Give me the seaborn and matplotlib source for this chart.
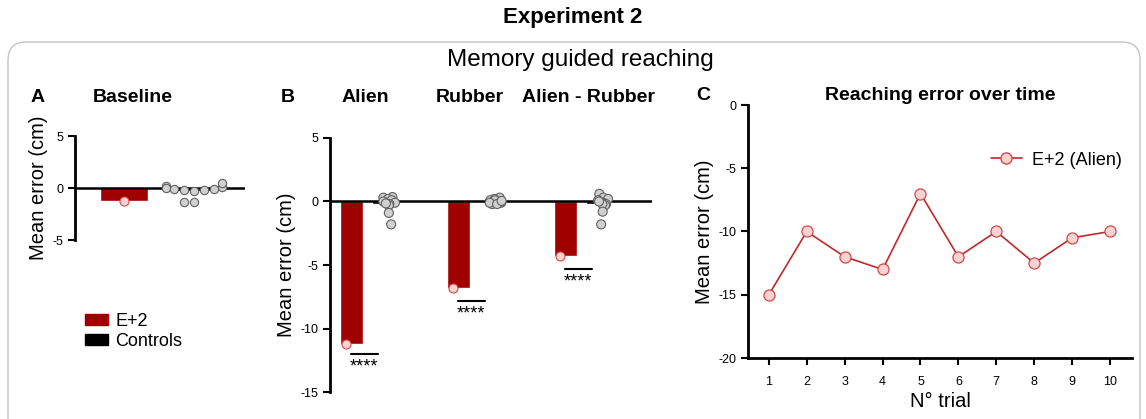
import numpy as np
import pandas as pd
import matplotlib
matplotlib.use("Agg")
import matplotlib.pyplot as plt
from matplotlib.patches import FancyBboxPatch, Patch
from matplotlib.lines import Line2D
from matplotlib.transforms import IdentityTransform
import seaborn as sns

# ---------------- data ----------------
groups = ["E+2", "Controls"]
conditions = ["Alien", "Rubber", "Alien - Rubber"]

baseline_patient = [-1.25]
baseline_controls = [0.2, 0.0, -0.1, -0.2, 0.05, -0.2, -0.1, -0.3, 0.5, -1.35, -1.35]

patient_b = [-11.2, -6.8, -4.3]
controls_alien = [0.3, 0.35, 0.2, 0.1, -0.1, -0.2, -0.3, 0.0, -0.15, -0.9, -1.8]
controls_rubber = [0.3, 0.2, 0.1, 0.0, -0.1, -0.2, 0.1, 0.0, -0.1, -0.2, 0.05]
controls_ar = [0.6, 0.3, 0.2, 0.1, -0.1, -0.2, -0.3, -0.2, 0.0, -0.8, -1.8]
sig_labels = ["****", "****", "****"]
sig_y = [-12.0, -7.8, -5.3]

trials = [1, 2, 3, 4, 5, 6, 7, 8, 9, 10]
trial_error = [-15, -10, -12, -13, -7, -12, -10, -12.5, -10.5, -10]

# ---------------- style ----------------
sns.set_theme(style="ticks")
plt.rcParams["font.family"] = ["Liberation Sans", "DejaVu Sans"]
plt.rcParams["text.color"] = "black"
plt.rcParams["axes.labelcolor"] = "black"
plt.rcParams["xtick.color"] = "black"
plt.rcParams["ytick.color"] = "black"
RED = "#A00000"
PINK = "#F9D2D2"
PINK_EDGE = "#D24A4A"
GRAY = "#D0D0D0"
GRAY_EDGE = "#606060"
np.random.seed(7)  # deterministic horizontal jitter only

fig = plt.figure(figsize=(11.46, 4.19), dpi=100)
H = 419.0
W = 1146.0

def fx(px):
    return px / W

def fy(py):
    return 1 - py / H

# rounded panel box (pixel coordinates)
box = FancyBboxPatch((8, -25), 1132, 419 - 42 + 25,
                     boxstyle="round,pad=0,rounding_size=18",
                     transform=IdentityTransform(), fill=False,
                     edgecolor="#C4C4C4", linewidth=1.0, zorder=0)
fig.patches.append(box)

fig.text(fx(573), fy(18), "Experiment 2", ha="center", va="center",
         fontsize=16, fontweight="bold")
fig.text(fx(580), fy(60), "Memory guided reaching", ha="center", va="center",
         fontsize=17.5)

def style_axis(ax):
    for s in ["top", "right"]:
        ax.spines[s].set_visible(False)
    ax.spines["left"].set_linewidth(2)
    ax.spines["bottom"].set_linewidth(2)
    ax.spines["left"].set_color("black")
    ax.spines["bottom"].set_color("black")
    ax.tick_params(axis="both", width=1.5, length=5, labelsize=9,
                   colors="black", direction="out")
    ax.tick_params(axis="x", pad=8)
    ax.set_facecolor("none")

# ---------------- Panel A ----------------
axA = fig.add_axes([fx(75), fy(240), fx(245) - fx(75), fy(136) - fy(240)])
dfA_bar = pd.DataFrame({"group": groups,
                        "value": [np.mean(baseline_patient), np.mean(baseline_controls)]})
sns.barplot(data=dfA_bar, x="group", y="value", hue="group", order=groups,
            hue_order=groups, palette=[RED, "black"], width=0.69, saturation=1,
            errorbar=None, legend=False, ax=axA, zorder=1)
dfA_pat = pd.DataFrame({"group": ["E+2"] * len(baseline_patient), "value": baseline_patient})
dfA_ctl = pd.DataFrame({"group": ["Controls"] * len(baseline_controls), "value": baseline_controls})
sns.swarmplot(data=dfA_pat, x="group", y="value", order=groups, color=PINK,
              edgecolor=PINK_EDGE, linewidth=0.8, size=6.5, ax=axA, zorder=3)
sns.swarmplot(data=dfA_ctl, x="group", y="value", order=groups, color=GRAY,
              edgecolor=GRAY_EDGE, linewidth=0.8, size=6.0, ax=axA, zorder=3)
axA.axhline(0, color="black", lw=1.8, zorder=2)
axA.set_ylim(-5, 5)
axA.set_xlim(-0.7, 1.73)
axA.set_yticks([5, 0, -5])
axA.set_yticklabels(["5", "0", "-5"])
style_axis(axA)
axA.spines["bottom"].set_visible(False)
axA.set_xticks([])
axA.set_xlabel("")
axA.set_ylabel("Mean error (cm)", fontsize=14.5, labelpad=3)

fig.text(fx(38), fy(97), "A", ha="center", va="center", fontsize=14, fontweight="bold")
fig.text(fx(133), fy(97), "Baseline", ha="center", va="center", fontsize=14, fontweight="bold")

fig.legend(handles=[Patch(facecolor=RED, edgecolor=RED, label="E+2"),
                    Patch(facecolor="black", edgecolor="black", label="Controls")],
           loc="upper left", bbox_to_anchor=(fx(72), fy(300)), frameon=False,
           fontsize=13, handlelength=1.3, handleheight=0.55, handletextpad=0.4,
           labelspacing=0.2, borderpad=0.2)

# ---------------- Panel B ----------------
axB = fig.add_axes([fx(330), fy(392), fx(652) - fx(330), fy(138) - fy(392)])
ctl_lists = [controls_alien, controls_rubber, controls_ar]
dfB_bar = pd.DataFrame({
    "cond": conditions * 2,
    "group": ["E+2"] * 3 + ["Controls"] * 3,
    "value": patient_b + [np.mean(c) for c in ctl_lists],
})
sns.barplot(data=dfB_bar, x="cond", y="value", hue="group", order=conditions,
            hue_order=groups, palette=[RED, "black"], width=0.6, gap=0.3, saturation=1,
            errorbar=None, legend=False, ax=axB, zorder=1)
dfB_pat = pd.DataFrame({"cond": conditions, "group": ["E+2"] * 3, "value": patient_b})
rows = []
for c, vals in zip(conditions, ctl_lists):
    for v in vals:
        rows.append({"cond": c, "group": "Controls", "value": v})
dfB_ctl = pd.DataFrame(rows)
sns.stripplot(data=dfB_pat, x="cond", y="value", hue="group", order=conditions,
              hue_order=groups, dodge=True, jitter=False, palette=[PINK, PINK],
              edgecolor=PINK_EDGE, linewidth=0.8, size=6.5, legend=False, ax=axB, zorder=3)
sns.stripplot(data=dfB_ctl, x="cond", y="value", hue="group", order=conditions,
              hue_order=groups, dodge=True, jitter=0.12, palette=[GRAY, GRAY],
              edgecolor=GRAY_EDGE, linewidth=0.8, size=6.5, legend=False, ax=axB, zorder=3)
axB.axhline(0, color="black", lw=1.8, zorder=2)
for i, (lab, yv) in enumerate(zip(sig_labels, sig_y)):
    axB.plot([i - 0.15, i + 0.1], [yv, yv], color="black", lw=1.5)
    axB.text(i - 0.03, yv - 0.4, lab, ha="center", va="top", fontsize=13)
axB.set_ylim(-15, 5)
axB.set_xlim(-0.35, 2.66)
axB.set_yticks([5, 0, -5, -10, -15])
axB.set_yticklabels(["5", "0", "-5", "-10", "-15"])
style_axis(axB)
axB.spines["bottom"].set_visible(False)
axB.set_xticks([])
axB.set_xlabel("")
axB.set_ylabel("Mean error (cm)", fontsize=14.5, labelpad=3)

fig.text(fx(288), fy(97), "B", ha="center", va="center", fontsize=14, fontweight="bold")
for xp, t in zip([365, 470, 588], conditions):
    fig.text(fx(xp), fy(97), t, ha="center", va="center", fontsize=14, fontweight="bold")

# ---------------- Panel C ----------------
axC = fig.add_axes([fx(748), fy(358), fx(1132) - fx(748), fy(105) - fy(358)])
dfC = pd.DataFrame({"trial": trials, "error": trial_error, "label": "E+2 (Alien)"})
sns.lineplot(data=dfC, x="trial", y="error", hue="label", palette=["#C0292B"],
             marker="o", markersize=8, markerfacecolor=PINK,
             markeredgecolor=PINK_EDGE, markeredgewidth=0.9, linewidth=1.2, ax=axC)
axC.set_ylim(-20, 0)
axC.set_xlim(0.45, 10.58)
axC.set_yticks([0, -5, -10, -15, -20])
axC.set_yticklabels(["0", "-5", "-10", "-15", "-20"])
axC.set_xticks(trials)
style_axis(axC)
axC.set_xlabel("N° trial", fontsize=14.5, labelpad=3)
axC.set_ylabel("Mean error (cm)", fontsize=14.5, labelpad=3)
axC.legend(handles=[Line2D([0], [0], color="#C0292B", lw=1.2, marker="o",
                           markersize=8, markerfacecolor=PINK,
                           markeredgecolor=PINK_EDGE, label="E+2 (Alien)")],
           loc="upper left", bbox_to_anchor=(0.59, 0.88), frameon=False,
           fontsize=13, handlelength=1.7, handletextpad=0.6)

fig.text(fx(703), fy(96), "C", ha="center", va="center", fontsize=14, fontweight="bold")
fig.text(fx(940), fy(96), "Reaching error over time", ha="center", va="center",
         fontsize=14, fontweight="bold")

fig.savefig("out.png", dpi=100)
